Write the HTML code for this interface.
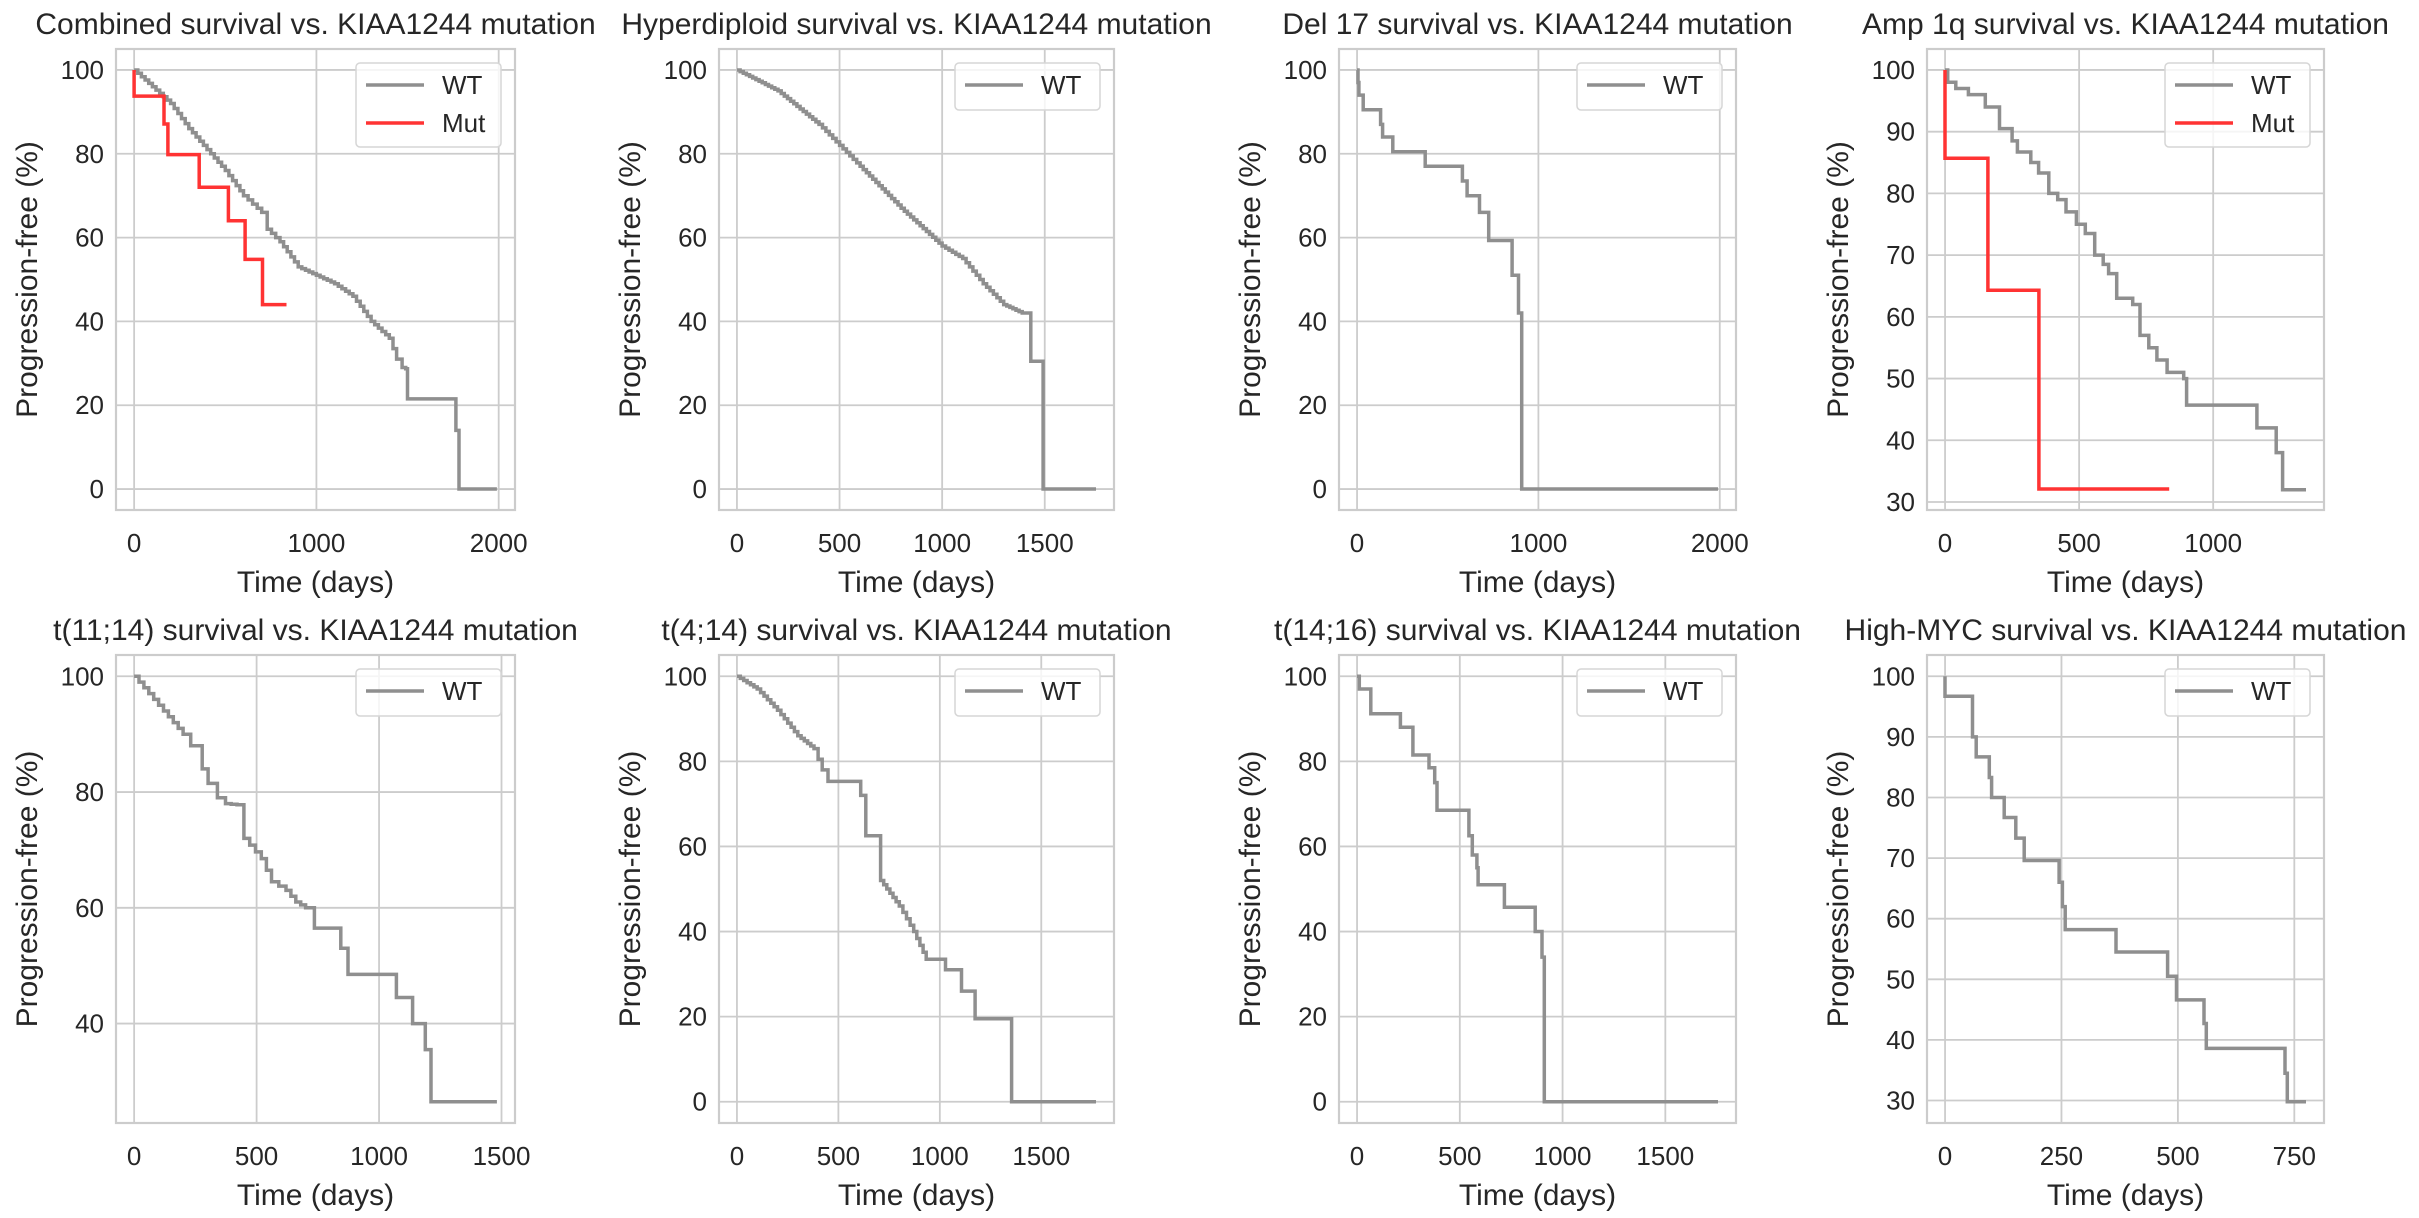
<!DOCTYPE html>
<html><head><meta charset="utf-8"><style>
html,body{margin:0;padding:0;background:#fff}
svg{display:block}
text{font-family:"Liberation Sans",Arial,sans-serif;fill:#262626}
.t{font-size:30px;text-anchor:middle}
.xl,.yl{font-size:30px;text-anchor:middle}
.xt{font-size:26px;text-anchor:middle}
.yt{font-size:26px;text-anchor:end}
.lg{font-size:26px}
</style></head><body>
<svg id="s" width="2419" height="1218" viewBox="0 0 2419 1218" xmlns="http://www.w3.org/2000/svg">
<g id="p0"><text class="t">Combined survival vs. KIAA1244 mutation</text><text class="xl">Time (days)</text><text class="yl">Progression-free (%)</text>
<text class="xt" data-v="0">0</text><text class="xt" data-v="1000">1000</text><text class="xt" data-v="2000">2000</text>
<text class="yt" data-v="0">0</text><text class="yt" data-v="20">20</text><text class="yt" data-v="40">40</text><text class="yt" data-v="60">60</text><text class="yt" data-v="80">80</text><text class="yt" data-v="100">100</text>
<text class="lg">WT</text><text class="lg">Mut</text></g>
<g id="p1"><text class="t">Hyperdiploid survival vs. KIAA1244 mutation</text><text class="xl">Time (days)</text><text class="yl">Progression-free (%)</text>
<text class="xt" data-v="0">0</text><text class="xt" data-v="500">500</text><text class="xt" data-v="1000">1000</text><text class="xt" data-v="1500">1500</text>
<text class="yt" data-v="0">0</text><text class="yt" data-v="20">20</text><text class="yt" data-v="40">40</text><text class="yt" data-v="60">60</text><text class="yt" data-v="80">80</text><text class="yt" data-v="100">100</text>
<text class="lg">WT</text></g>
<g id="p2"><text class="t">Del 17 survival vs. KIAA1244 mutation</text><text class="xl">Time (days)</text><text class="yl">Progression-free (%)</text>
<text class="xt" data-v="0">0</text><text class="xt" data-v="1000">1000</text><text class="xt" data-v="2000">2000</text>
<text class="yt" data-v="0">0</text><text class="yt" data-v="20">20</text><text class="yt" data-v="40">40</text><text class="yt" data-v="60">60</text><text class="yt" data-v="80">80</text><text class="yt" data-v="100">100</text>
<text class="lg">WT</text></g>
<g id="p3"><text class="t">Amp 1q survival vs. KIAA1244 mutation</text><text class="xl">Time (days)</text><text class="yl">Progression-free (%)</text>
<text class="xt" data-v="0">0</text><text class="xt" data-v="500">500</text><text class="xt" data-v="1000">1000</text>
<text class="yt" data-v="30">30</text><text class="yt" data-v="40">40</text><text class="yt" data-v="50">50</text><text class="yt" data-v="60">60</text><text class="yt" data-v="70">70</text><text class="yt" data-v="80">80</text><text class="yt" data-v="90">90</text><text class="yt" data-v="100">100</text>
<text class="lg">WT</text><text class="lg">Mut</text></g>
<g id="p4"><text class="t">t(11;14) survival vs. KIAA1244 mutation</text><text class="xl">Time (days)</text><text class="yl">Progression-free (%)</text>
<text class="xt" data-v="0">0</text><text class="xt" data-v="500">500</text><text class="xt" data-v="1000">1000</text><text class="xt" data-v="1500">1500</text>
<text class="yt" data-v="40">40</text><text class="yt" data-v="60">60</text><text class="yt" data-v="80">80</text><text class="yt" data-v="100">100</text>
<text class="lg">WT</text></g>
<g id="p5"><text class="t">t(4;14) survival vs. KIAA1244 mutation</text><text class="xl">Time (days)</text><text class="yl">Progression-free (%)</text>
<text class="xt" data-v="0">0</text><text class="xt" data-v="500">500</text><text class="xt" data-v="1000">1000</text><text class="xt" data-v="1500">1500</text>
<text class="yt" data-v="0">0</text><text class="yt" data-v="20">20</text><text class="yt" data-v="40">40</text><text class="yt" data-v="60">60</text><text class="yt" data-v="80">80</text><text class="yt" data-v="100">100</text>
<text class="lg">WT</text></g>
<g id="p6"><text class="t">t(14;16) survival vs. KIAA1244 mutation</text><text class="xl">Time (days)</text><text class="yl">Progression-free (%)</text>
<text class="xt" data-v="0">0</text><text class="xt" data-v="500">500</text><text class="xt" data-v="1000">1000</text><text class="xt" data-v="1500">1500</text>
<text class="yt" data-v="0">0</text><text class="yt" data-v="20">20</text><text class="yt" data-v="40">40</text><text class="yt" data-v="60">60</text><text class="yt" data-v="80">80</text><text class="yt" data-v="100">100</text>
<text class="lg">WT</text></g>
<g id="p7"><text class="t">High-MYC survival vs. KIAA1244 mutation</text><text class="xl">Time (days)</text><text class="yl">Progression-free (%)</text>
<text class="xt" data-v="0">0</text><text class="xt" data-v="250">250</text><text class="xt" data-v="500">500</text><text class="xt" data-v="750">750</text>
<text class="yt" data-v="30">30</text><text class="yt" data-v="40">40</text><text class="yt" data-v="50">50</text><text class="yt" data-v="60">60</text><text class="yt" data-v="70">70</text><text class="yt" data-v="80">80</text><text class="yt" data-v="90">90</text><text class="yt" data-v="100">100</text>
<text class="lg">WT</text></g>
</svg>
<script>
(function(){
var NS="http://www.w3.org/2000/svg";
var cols=[[116,515],[719,1114],[1339,1736],[1927,2324]];
var rows=[[49,510],[655,1123]];
function stair(g,dt){var o=[[g[0][0],g[0][1]]];for(var i=1;i<g.length;i++){var a=g[i-1],b=g[i],d=b[0]-a[0];if(d<=dt*1.5){o.push([b[0],b[1]]);}else{var n=Math.floor(d/dt);for(var k=1;k<=n;k++)o.push([a[0]+k*d/n,a[1]+k*(b[1]-a[1])/n]);}}return o;}
var GR="#8f8f8f",RD="#ff3333";
var P=[
 {xmax:1990,ymin:0,s:[
  {c:GR,d:stair([[0,100],[100,96],[200,92],[300,86],[400,81],[500,76],[600,70],[650,68],[700,66],[730,62],[800,59],[900,53],[1000,51],[1100,49],[1200,46],[1300,40],[1400,36],[1440,31],[1470,29],[1490,28.7],[1500,21.5],[1760,21.5],[1765,14],[1780,14],[1782,0],[1990,0]],18)},
  {c:RD,d:[[0,100],[0,93.75],[164,87.1],[185,79.8],[357,72],[517,64],[609,54.8],[704,44],[836,44]]}]},
 {xmax:1750,ymin:0,s:[{c:GR,d:stair([[0,100],[200,95],[400,87],[500,82],[600,77],[800,67],[1000,58],[1100,55],[1200,49],[1300,44],[1390,42],[1430,42],[1432,30.5],[1490,30.5],[1492,0],[1750,0]],15)}]},
 {xmax:1990,ymin:0,s:[{c:GR,d:[[0,100],[5,97],[10,94],[34,90.5],[130,87],[141,84],[197,80.5],[376,77],[581,73.5],[607,70],[675,66],[726,59.3],[855,51],[890,42],[908,0],[1990,0]]}]},
 {xmax:1346,ymin:32.1,s:[
  {c:GR,d:[[0,100],[10,98],[40,97],[87,96],[150,94],[203,90.5],[250,88.5],[270,86.7],[320,85],[349,83.3],[387,80],[420,79],[451,77],[490,75],[523,73.5],[558,70],[590,68.5],[610,67],[640,63],[700,62],[727,57],[760,55],[790,53],[828,51],[890,50],[901,45.7],[1163,45.7],[1163,42],[1230,42],[1235,38],[1259,32],[1346,32]]},
  {c:RD,d:[[0,100],[0,85.7],[160,64.3],[350,32.1],[836,32.1]]}]},
 {xmax:1481,ymin:26.5,s:[{c:GR,d:stair([[0,100],[100,95],[200,90],[231,88],[260,88],[278,84],[302,81.5],[340,79],[373,78],[420,77.8],[448,72],[519,68.5],[561,64.5],[620,63],[660,61],[700,60],[736,56.5],[820,56.5],[844,53],[873,48.5],[1071,48.5],[1071,44.5],[1137,44.5],[1137,40],[1189,40],[1189,35.5],[1212,35.5],[1212,26.5],[1481,26.5]],20)}]},
 {xmax:1770,ymin:0,s:[{c:GR,d:stair([[0,100],[100,97],[200,92],[300,86],[380,83],[420,78],[449,75.3],[596,75.3],[610,72],[635,62.5],[680,62.5],[708,52],[800,46],[871,40],[933,33.5],[1000,33.5],[1028,31],[1090,31],[1107,26],[1150,26],[1174,19.5],[1354,19.5],[1354,0],[1770,0]],15)}]},
 {xmax:1756,ymin:0,s:[{c:GR,d:[[0,100],[11,97],[67,91.2],[211,88],[272,81.5],[350,78.5],[378,75],[389,68.5],[544,62.5],[561,58],[583,55],[589,51],[717,45.7],[867,40],[900,34],[911,0],[1756,0]]}]},
 {xmax:775,ymin:29.8,s:[{c:GR,d:[[0,100],[0,96.7],[59,90],[67,86.7],[95,83.3],[100,80],[127,76.7],[152,73.3],[170,69.6],[245,66],[252,62],[258,58.2],[367,54.5],[478,50.5],[497,46.6],[556,42.7],[561,38.6],[730,34.5],[735,29.8],[775,29.8]]}]}
];
function el(n,a,p){var e=document.createElementNS(NS,n);for(var k in a)e.setAttribute(k,a[k]);p.appendChild(e);return e;}
P.forEach(function(p,i){
 var g=document.getElementById("p"+i);
 var L=cols[i%4][0],R=cols[i%4][1],T=rows[i>>2][0],B=rows[i>>2][1];
 var x0=-0.05*p.xmax,x1=1.05*p.xmax,yr=100-p.ymin,y0=p.ymin-0.05*yr,y1=100+0.05*yr;
 function X(v){return L+(v-x0)/(x1-x0)*(R-L);} function Y(v){return B-(v-y0)/(y1-y0)*(B-T);}
 var bg=document.createElementNS(NS,"g");g.insertBefore(bg,g.firstChild);
 el("rect",{x:L,y:T,width:R-L,height:B-T,fill:"#fff",stroke:"#cccccc","stroke-width":2.2},bg);
 var ts=g.querySelectorAll("text");
 ts.forEach(function(t){
  var c=t.getAttribute("class"),v=+t.getAttribute("data-v");
  if(c=="xt"){var xx=X(v);t.setAttribute("x",xx);t.setAttribute("y",B+42);el("line",{x1:xx,x2:xx,y1:T,y2:B,stroke:"#cccccc","stroke-width":1.8},bg);}
  if(c=="yt"){var yy=Y(v);t.setAttribute("x",L-12);t.setAttribute("y",yy+9);el("line",{x1:L,x2:R,y1:yy,y2:yy,stroke:"#cccccc","stroke-width":1.8},bg);}
  if(c=="t"){t.setAttribute("x",(L+R)/2);t.setAttribute("y",T-15);}
  if(c=="xl"){t.setAttribute("x",(L+R)/2);t.setAttribute("y",B+82);}
  if(c=="yl"){var cx=L-79,cy=(T+B)/2;t.setAttribute("x",cx);t.setAttribute("y",cy);t.setAttribute("transform","rotate(-90 "+cx+" "+cy+")");}
 });
 p.s.forEach(function(s){
  var d="M"+X(s.d[0][0]).toFixed(1)+" "+Y(s.d[0][1]).toFixed(1);
  for(var k=1;k<s.d.length;k++){d+=" H"+X(s.d[k][0]).toFixed(1)+" V"+Y(s.d[k][1]).toFixed(1);}
  el("path",{d:d,fill:"none",stroke:s.c,"stroke-width":3.5,"stroke-linejoin":"miter"},g);
 });
 var lgs=g.querySelectorAll(".lg"),n=lgs.length;
 var bw=145,bh=n==2?84:47,bx=R-14-bw,by=T+14;
 el("rect",{x:bx,y:by,width:bw,height:bh,rx:4,fill:"#fff","fill-opacity":0.8,stroke:"#d6d6d6","stroke-width":1.5},g);
 lgs.forEach(function(t,k){var yy=by+22+k*38;el("line",{x1:bx+10,x2:bx+68,y1:yy,y2:yy,stroke:k==0?GR:RD,"stroke-width":3.5},g);t.setAttribute("x",bx+86);t.setAttribute("y",yy+9);g.appendChild(t);});
});
})();
</script>
</body></html>
